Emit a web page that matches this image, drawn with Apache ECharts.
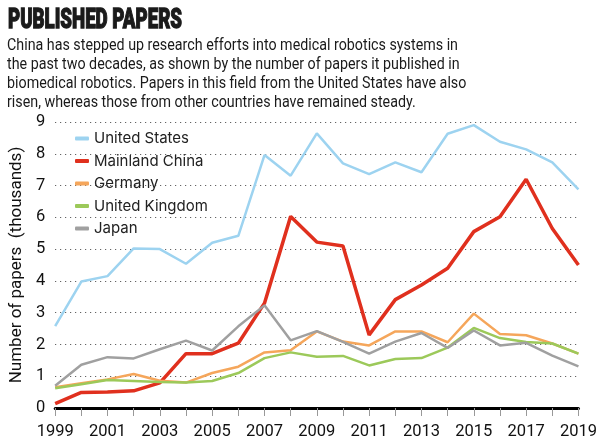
<!DOCTYPE html>
<html><head><meta charset="utf-8">
<script src="https://cdn.jsdelivr.net/npm/echarts@6/dist/echarts.min.js"></script>
<style>html,body{margin:0;padding:0;background:#fff}#c{width:600px;height:445px}</style>
</head><body><div id="c"></div>
<script>
const years = ['1999','2000','2001','2002','2003','2004','2005','2006','2007','2008','2009','2010','2011','2012','2013','2014','2015','2016','2017','2018','2019'];
const unitedStates = [2.58,3.98,4.15,5.02,5.0,4.54,5.2,5.42,7.96,7.31,8.64,7.7,7.36,7.73,7.42,8.63,8.9,8.38,8.14,7.73,6.88];
const mainlandChina = [0.14,0.49,0.5,0.54,0.79,1.71,1.71,2.04,3.3,6.03,5.22,5.1,2.3,3.41,3.87,4.4,5.55,6.02,7.2,5.65,4.5];
const germany = [0.65,0.78,0.9,1.07,0.86,0.8,1.1,1.3,1.75,1.82,2.41,2.09,1.97,2.41,2.41,2.07,2.97,2.33,2.29,2.03,1.71];
const unitedKingdom = [0.62,0.75,0.88,0.85,0.82,0.8,0.85,1.1,1.57,1.75,1.61,1.64,1.34,1.54,1.57,1.9,2.52,2.2,2.08,2.03,1.71];
const japan = [0.7,1.36,1.6,1.56,1.85,2.12,1.81,2.57,3.23,2.13,2.42,2.08,1.71,2.09,2.36,1.89,2.44,1.97,2.05,1.65,1.31];
const yTicks = [0,1,2,3,4,5,6,7,8,9];
const titleText = 'PUBLISHED PAPERS';
const subtitleLines = [
  'China has stepped up research efforts into medical robotics systems in',
  'the past two decades, as shown by the number of papers it published in',
  'biomedical robotics. Papers in this field from the United States have also',
  'risen, whereas those from other countries have remained steady.'
];

const F = 'Roboto, "Noto Sans", sans-serif';
const titleFont = '900 28px Roboto, "Noto Sans", sans-serif';
const subFont = '16.5px Roboto, "Noto Sans", sans-serif';
const ctx = document.createElement('canvas').getContext('2d');
function w(font, t){ ctx.font = font; return ctx.measureText(t).width; }
const titleScale = 174 / w(titleFont, titleText);
const subScale = 451 / w(subFont, subtitleLines[0]);

const chart = echarts.init(document.getElementById('c'));
function line(name, data, color, width) {
  return {name, type:'line', data, symbol:'none', lineStyle:{color, width}, itemStyle:{color}, z: 3};
}
chart.setOption({
  animation:false,
  backgroundColor:'#fff',
  graphic:[
    {type:'text', x:8, y:7, scaleX:titleScale, style:{text:titleText, font:titleFont, fill:'#1a1a1a', stroke:'#1a1a1a', lineWidth:1.3, textVerticalAlign:'top'}},
    {type:'text', x:7, y:36, scaleX:subScale, style:{text:subtitleLines.join('\n'), font:subFont, lineHeight:19, fill:'#1a1a1a', textVerticalAlign:'top'}}
  ],
  legend:{
    orient:'vertical', left:70, top:126, itemGap:7.5, itemWidth:14, itemHeight:4,
    icon:'roundRect',
    textStyle:{fontFamily:'Inter, Roboto, sans-serif', fontSize:15, color:'#222'},
    data:['United States','Mainland China','Germany','United Kingdom','Japan']
  },
  grid:{left:53, right:18, top:122, bottom:37, containLabel:false},
  xAxis:{
    type:'category', data:years, boundaryGap:false,
    axisLine:{lineStyle:{color:'#000', width:3}},
    axisTick:{show:true, interval:0, length:8, lineStyle:{color:'#999', width:1}},
    axisLabel:{interval:1, fontFamily:F, fontSize:16.5, color:'#111', margin:15}
  },
  yAxis:{
    type:'value', min:0, max:9, interval:1,
    name:'Number of papers  (thousands)', nameLocation:'middle', nameGap:27,
    nameTextStyle:{fontFamily:F, fontSize:17, color:'#111'},
    axisLine:{show:false}, axisTick:{show:false},
    axisLabel:{fontFamily:F, fontSize:16.5, color:'#111', margin:10, formatter:v=>yTicks.includes(v)?String(v):''},
    splitLine:{lineStyle:{color:'#444', type:[1,4], width:1}}
  },
  series:[
    line('United States', unitedStates, '#9dd3f0', 2.5),
    line('Mainland China', mainlandChina, '#e0301e', 3.5),
    line('Germany', germany, '#f5a65b', 2.5),
    line('United Kingdom', unitedKingdom, '#9cc95a', 2.5),
    line('Japan', japan, '#a0a0a0', 2.5)
  ]
});
</script></body></html>
